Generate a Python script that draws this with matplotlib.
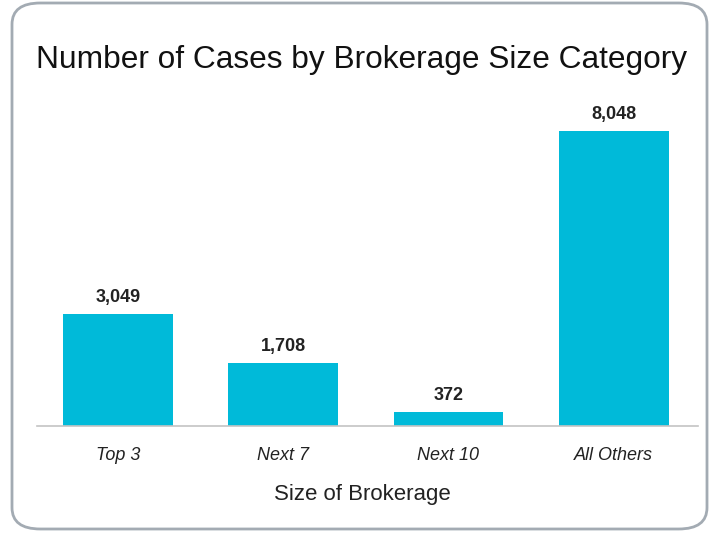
import numpy as np
import matplotlib.pyplot as plt
from matplotlib.patches import FancyBboxPatch

## Datos
categorias = ["Top 3", "Next 7", "Next 10", "All Others"]
casos = [3049, 1708, 372, 8048]
etiquetas = ["3,049", "1,708", "372", "8,048"]

plt.rcParams['font.family'] = ['Liberation Sans', 'DejaVu Sans']

fig = plt.figure(figsize=(7.09, 5.33), dpi=100)

## Marco redondeado
W, H = 709, 533
marco = FancyBboxPatch((12 / W, 4 / H), 695 / W, 526 / H,
                       boxstyle="round,pad=0,rounding_size=0.04",
                       transform=fig.transFigure, facecolor="none",
                       edgecolor="#A3ABB3", linewidth=2, zorder=-1)
fig.patches.append(marco)

ax = fig.add_axes([37 / W, (H - 426) / H, 661 / W, 330 / H])
ax.set_facecolor("none")
x = np.arange(len(categorias))
ax.bar(x, casos, width=0.665, color="#00BAD9")
for xi, v, t in zip(x, casos, etiquetas):
    ax.text(xi, v + 220, t, ha="center", va="bottom", fontsize=13,
            fontweight="bold", color="#222222")

ax.set_xlim(-0.49, 3.51)
ax.set_ylim(0, 9000)
ax.set_yticks([])
ax.set_xticks(x)
ax.set_xticklabels(categorias, fontsize=13, style="italic", color="#222222")
ax.tick_params(axis="x", length=0, pad=15)
for s in ["top", "right", "left"]:
    ax.spines[s].set_visible(False)
ax.spines["bottom"].set_color("#C4C4C4")
ax.spines["bottom"].set_linewidth(1.2)
ax.set_xlabel("Size of Brokerage", fontsize=16, color="#222222")
ax.xaxis.set_label_coords(0.492, -0.176)

fig.text(362 / W, 1 - 60 / H, "Number of Cases by Brokerage Size Category",
         ha="center", va="center", fontsize=22.8, color="#111111")

fig.savefig("out.png", dpi=100)
